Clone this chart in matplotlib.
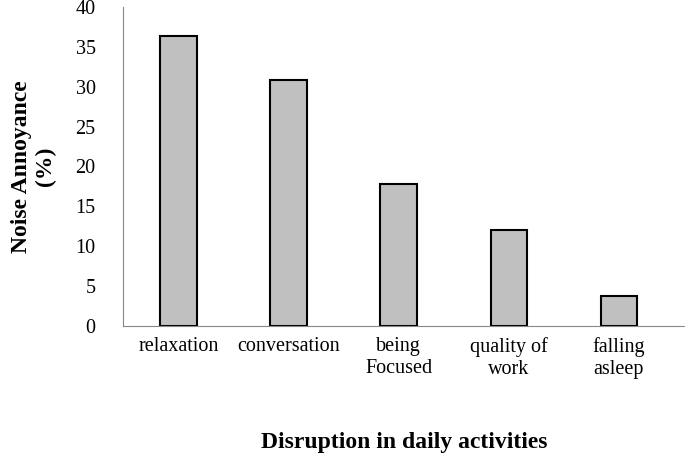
import matplotlib
matplotlib.use("Agg")
import matplotlib.pyplot as plt

categories = ["relaxation", "conversation", "being\nFocused", "quality of\nwork", "falling\nasleep"]
values = [36.4, 30.8, 17.8, 12.0, 3.8]
yticks = [0, 5, 10, 15, 20, 25, 30, 35, 40]

plt.rcParams["font.family"] = "Liberation Serif"
fig = plt.figure(figsize=(6.85, 4.53), dpi=100)
ax = fig.add_axes([0.18, 0.28, 0.82, 0.705])
x = list(range(len(categories)))
ax.bar(x, values, width=0.33, color="#c0c0c0", edgecolor="black", linewidth=1.5)
ax.set_xlim(-0.5, 4.6)
ax.set_ylim(0, 40)
ax.set_yticks(yticks)
ax.set_xticks(x)
ax.set_xticklabels(categories, fontsize=14.5, va="top")
ax.tick_params(axis="both", length=0, labelsize=14.5, pad=8)
ax.tick_params(axis="y", pad=20)
for s in ["top", "right"]:
    ax.spines[s].set_visible(False)
ax.spines["left"].set_color("#888888")
ax.spines["bottom"].set_color("#888888")
ax.set_ylabel("Noise Annoyance\n(%)", fontsize=17, fontweight="bold", labelpad=14)
ax.set_xlabel("Disruption in daily activities", fontsize=17, fontweight="bold", labelpad=38)
fig.savefig("out.png", dpi=100)
